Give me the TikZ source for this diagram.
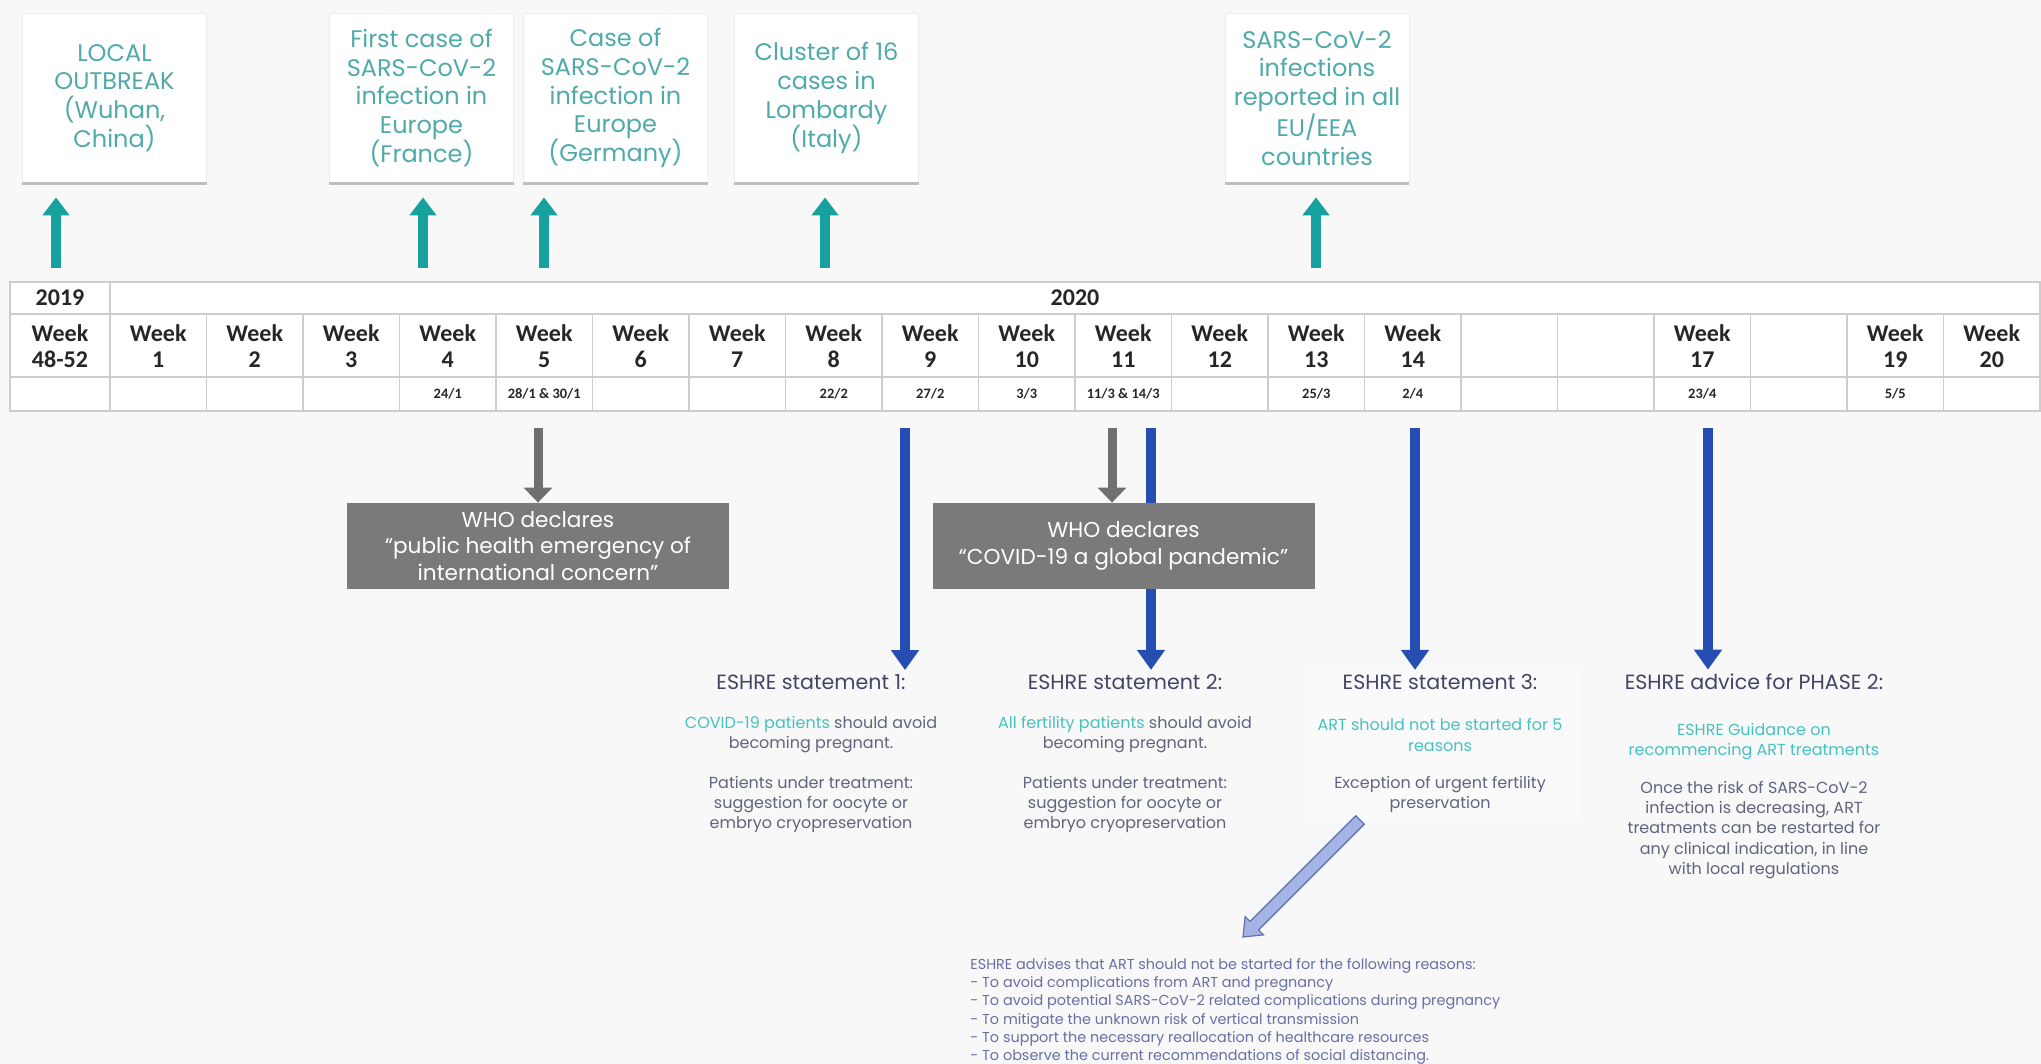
\documentclass[tikz,border=0pt]{standalone}
\usepackage{fontspec}
\setmainfont{Poppins}
\newfontfamily\tabfont{Carlito}
\usetikzlibrary{arrows.meta,calc}
\definecolor{bgc}{RGB}{248,248,248}
\definecolor{tealA}{RGB}{22,160,158}
\definecolor{tealT}{RGB}{80,170,170}
\definecolor{tealH}{RGB}{70,194,192}
\definecolor{darkT}{RGB}{66,70,100}
\definecolor{bodyT}{RGB}{96,100,124}
\definecolor{whobox}{RGB}{122,122,122}
\definecolor{grayA}{RGB}{112,112,112}
\definecolor{blueA}{RGB}{38,78,178}
\definecolor{gridc}{RGB}{205,205,205}
\definecolor{lblueF}{RGB}{164,178,228}
\definecolor{lblueD}{RGB}{96,112,176}
\definecolor{bottomT}{RGB}{105,110,165}
\begin{document}
\begin{tikzpicture}[x=0.5pt,y=-0.5pt,
  evbox/.style={fill=white, draw=black!7, minimum width=92pt, minimum height=85pt, inner sep=0pt, align=center, text=tealT, font=\fontsize{12}{14.4}\selectfont},
  tealarrow/.style={draw=tealA, line width=5pt, -{Triangle[width=13pt,length=9pt]}},
  grayarrow/.style={draw=grayA, line width=4.5pt, -{Triangle[width=14pt,length=7.5pt]}},
  bluearrow/.style={draw=blueA, line width=5pt, -{Triangle[width=13.5pt,length=10pt]}},
  whonode/.style={fill=whobox, text=white, minimum width=191pt, minimum height=43pt, inner sep=0pt, align=center, font=\fontsize{10.8}{13.4}\selectfont},
  weekcell/.style={inner sep=0pt, align=center, text=black!85, font=\tabfont\bfseries\fontsize{12}{13}\selectfont},
  yearcell/.style={inner sep=0pt, text=black!85, font=\tabfont\bfseries\fontsize{12}{13}\selectfont},
  datecell/.style={inner sep=0pt, text=black!85, font=\tabfont\bfseries\fontsize{7.2}{8}\selectfont},
  headnode/.style={inner sep=2pt, text=darkT, font=\fontsize{10.3}{12}\selectfont},
  bodynode/.style={inner sep=0pt, align=center, text=bodyT, font=\fontsize{8}{10.2}\selectfont},
  gridline/.style={draw=gridc, line width=0.8pt}
]
\fill[bgc] (0,0) rectangle (2041,1064);
\useasboundingbox (0,0) rectangle (2041,1064);

% top event boxes
\node[evbox] (box1) at (114.5,98) {LOCAL\\OUTBREAK\\(Wuhan,\\China)};
\node[evbox] (box2) at (421.5,98) {First case of\\SARS-CoV-2\\infection in\\Europe\\(France)};
\node[evbox] (box3) at (615.5,98) {Case of\\SARS-CoV-2\\infection in\\Europe\\(Germany)};
\node[evbox] (box4) at (826.5,98) {Cluster of 16\\cases in\\Lombardy\\(Italy)};
\node[evbox] (box5) at (1317,98) {SARS-CoV-2\\infections\\reported in all\\EU/EEA\\countries};
\foreach \b in {box1,box2,box3,box4,box5}
  \draw[black!25, line width=1.5pt] (\b.south west) -- (\b.south east);

% teal arrows
\coordinate (t1) at (56,268);
\coordinate (t2) at (423,268);
\coordinate (t3) at (544,268);
\coordinate (t4) at (825,268);
\coordinate (t5) at (1316,268);
\draw[tealarrow] (t1) -- ($(t1 |- box1.south)+(0,14)$);
\draw[tealarrow] (t2) -- ($(t2 |- box2.south)+(0,14)$);
\draw[tealarrow] (t3) -- ($(t3 |- box3.south)+(0,14)$);
\draw[tealarrow] (t4) -- ($(t4 |- box4.south)+(0,14)$);
\draw[tealarrow] (t5) -- ($(t5 |- box5.south)+(0,14)$);

% table
\fill[white] (10,282) rectangle (2040,411);
\draw[gridline] (10,282) rectangle (2040,411);
\draw[gridline] (10,314) -- (2040,314);
\draw[gridline] (10,377) -- (2040,377);
\draw[gridline] (110,282) -- (110,411);
\foreach \k in {1,...,19} \draw[gridline] ({110+\k*96.5},314) -- ({110+\k*96.5},411);
\node[yearcell] (y19) at (60,298) {2019};
\node[yearcell] (y20) at (1075,298) {2020};
\node[weekcell] (wk0) at (60,346) {Week\\48-52};
\foreach \lab [count=\i] in {{Week\\1},{Week\\2},{Week\\3},{Week\\4},{Week\\5},{Week\\6},{Week\\7},{Week\\8},{Week\\9},{Week\\10},{Week\\11},{Week\\12},{Week\\13},{Week\\14},{},{},{Week\\17},{},{Week\\19},{Week\\20}}
  \node[weekcell] (wk\i) at ({110+(\i-0.5)*96.5},346) {\lab};
\foreach \d [count=\i] in {{},{},{},{24/1},{28/1 \& 30/1},{},{},{22/2},{27/2},{3/3},{11/3 \& 14/3},{},{25/3},{2/4},{},{},{23/4},{},{5/5},{}}
  \node[datecell] (dt\i) at ({110+(\i-0.5)*96.5},394) {\d};

% ESHRE headings
\node[headnode] (h1) at (811,682) {ESHRE statement 1:};
\node[headnode] (h2) at (1125,682) {ESHRE statement 2:};
\fill[white!35!bgc] (1303,670) rectangle (1580,822);
\node[headnode] (h3) at (1440,682) {ESHRE statement 3:};
\node[headnode] (h4) at (1754,682) {ESHRE advice for PHASE 2:};

% blue arrows
\coordinate (b1) at (905,428);
\coordinate (b2) at (1151,428);
\coordinate (b3) at (1415,428);
\coordinate (b4) at (1708,428);
\draw[bluearrow] (b1) -- (b1 |- h1.north);
\draw[bluearrow] (b2) -- (b2 |- h2.north);
\draw[bluearrow] (b3) -- (b3 |- h3.north);
\draw[bluearrow] (b4) -- (b4 |- h4.north);

% WHO boxes and gray arrows
\node[whonode] (who1) at (538,546) {WHO declares\\``public health emergency of\\international concern''};
\node[whonode] (who2) at (1123.5,546) {WHO declares\\``COVID-19 a global pandemic''};
\coordinate (g1) at (538,428);
\coordinate (g2) at (1112,428);
\draw[grayarrow] (g1) -- (who1.north);
\draw[grayarrow] (g2) -- (g2 |- who2.north);

% ESHRE bodies
\node[bodynode] (p11) at (811,734.5) {{\color{tealH}COVID-19 patients} should avoid\\becoming pregnant.};
\node[bodynode] (p12) at (811,804.5) {Patients under treatment:\\suggestion for oocyte or\\embryo cryopreservation};
\node[bodynode] (p21) at (1125,734.5) {{\color{tealH}All fertility patients} should avoid\\becoming pregnant.};
\node[bodynode] (p22) at (1125,804.5) {Patients under treatment:\\suggestion for oocyte or\\embryo cryopreservation};
\node[bodynode, text=tealH] (p31) at (1440,735) {ART should not be started for 5\\reasons};
\node[bodynode] (p32) at (1440,794.5) {Exception of urgent fertility\\preservation};
\node[bodynode, text=tealH] (p41) at (1754,741.5) {ESHRE Guidance on\\recommencing ART treatments};
\node[bodynode] (p42) at (1754,830) {Once the risk of SARS-CoV-2\\infection is decreasing, ART\\treatments can be restarted for\\any clinical indication, in line\\with local regulations};

% bottom text
\node[anchor=north west, inner sep=0pt, align=left, text=bottomT, font=\fontsize{7.2}{9.1}\selectfont] (reasons) at (970,958)
{ESHRE advises that ART should not be started for the following reasons:\\
- To avoid complications from ART and pregnancy\\
- To avoid potential SARS-CoV-2 related complications during pregnancy\\
- To mitigate the unknown risk of vertical transmission\\
- To support the necessary reallocation of healthcare resources\\
- To observe the current recommendations of social distancing.};

% diagonal hollow arrow
\coordinate (dA) at (1360,820);
\coordinate (dB) at (1243,937);
\coordinate (dH) at ($(dB)!8pt!(dA)$);
\draw[draw=lblueD, fill=lblueF, line width=0.6pt, line join=miter]
  ($(dA)!3pt!90:(dB)$) -- ($(dH)!3pt!-90:(dA)$) -- ($(dH)!6.5pt!-90:(dA)$) -- (dB)
  -- ($(dH)!6.5pt!90:(dA)$) -- ($(dH)!3pt!90:(dA)$) -- ($(dA)!3pt!-90:(dB)$) -- cycle;
\end{tikzpicture}
\end{document}
